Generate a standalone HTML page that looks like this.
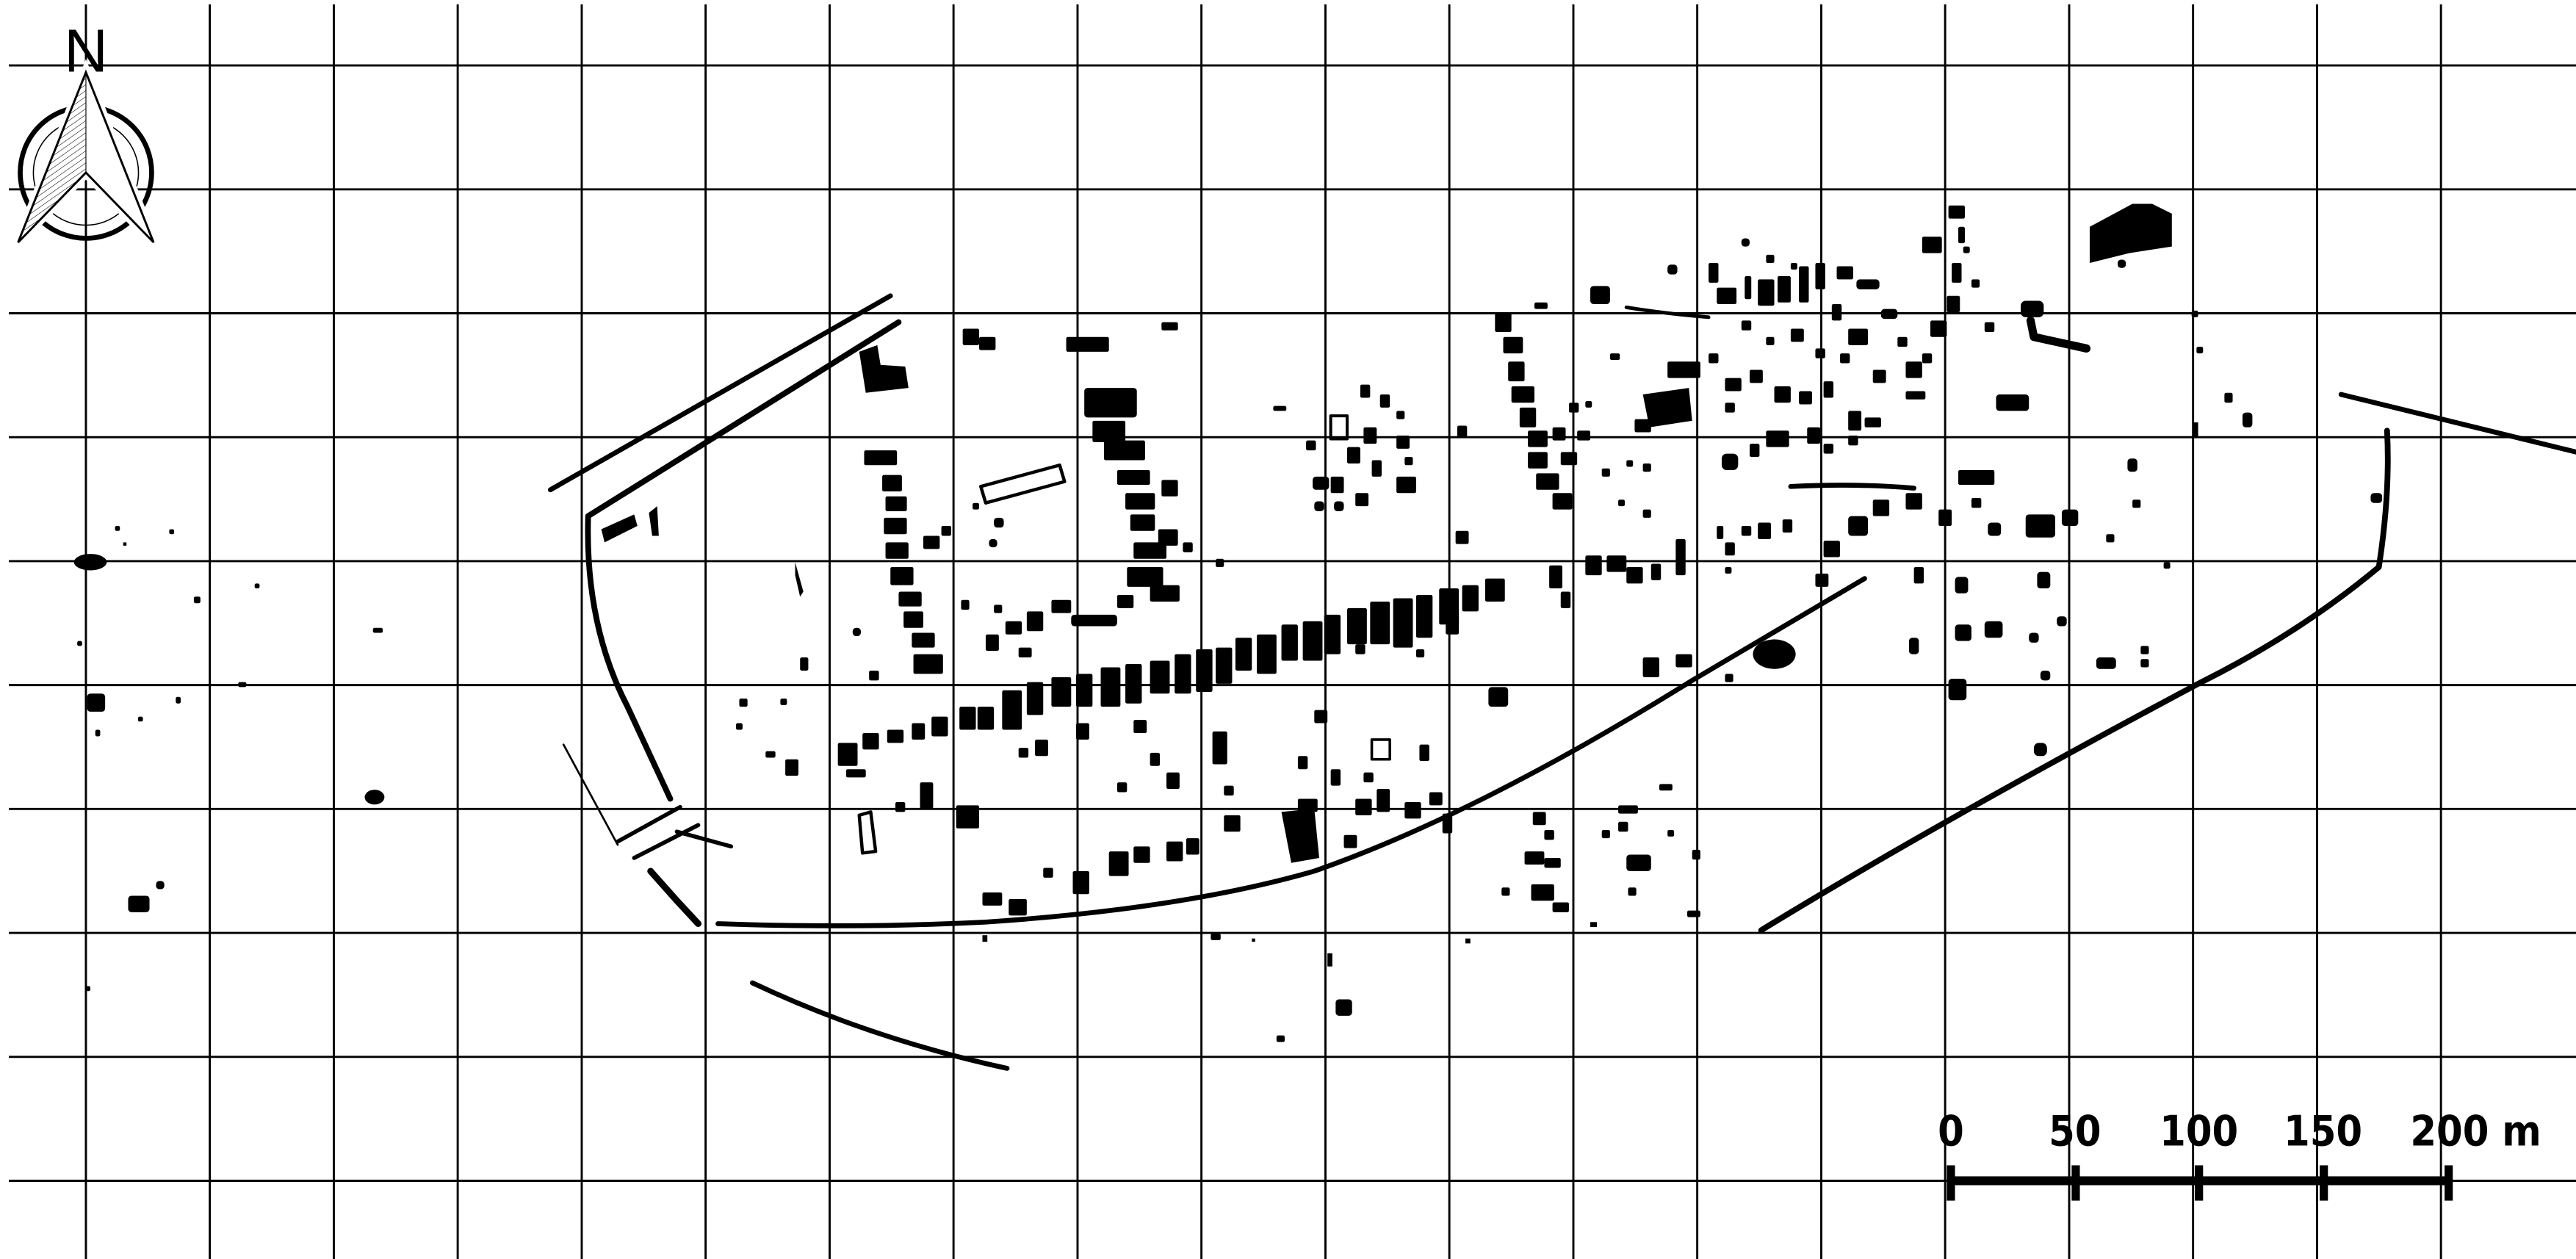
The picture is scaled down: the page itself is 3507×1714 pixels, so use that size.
<!DOCTYPE html>
<html><head><meta charset="utf-8"><style>
html,body{margin:0;padding:0;background:#fff;}
svg{display:block;}
</style></head><body>
<svg width="3507" height="1714" viewBox="0 0 1568 766" preserveAspectRatio="none" xmlns="http://www.w3.org/2000/svg">
<rect width="1568" height="766" fill="#fff"/>
<g stroke="#000" stroke-width="1.3">
<line x1="52.3" y1="2.7" x2="52.3" y2="766"/><line x1="127.7" y1="2.7" x2="127.7" y2="766"/><line x1="203.2" y1="2.7" x2="203.2" y2="766"/><line x1="278.6" y1="2.7" x2="278.6" y2="766"/><line x1="354.1" y1="2.7" x2="354.1" y2="766"/><line x1="429.5" y1="2.7" x2="429.5" y2="766"/><line x1="505" y1="2.7" x2="505" y2="766"/><line x1="580.4" y1="2.7" x2="580.4" y2="766"/><line x1="655.9" y1="2.7" x2="655.9" y2="766"/><line x1="731.3" y1="2.7" x2="731.3" y2="766"/><line x1="806.8" y1="2.7" x2="806.8" y2="766"/><line x1="882.2" y1="2.7" x2="882.2" y2="766"/><line x1="957.7" y1="2.7" x2="957.7" y2="766"/><line x1="1033.1" y1="2.7" x2="1033.1" y2="766"/><line x1="1108.6" y1="2.7" x2="1108.6" y2="766"/><line x1="1184" y1="2.7" x2="1184" y2="766"/><line x1="1259.5" y1="2.7" x2="1259.5" y2="766"/><line x1="1334.9" y1="2.7" x2="1334.9" y2="766"/><line x1="1410.4" y1="2.7" x2="1410.4" y2="766"/><line x1="1485.8" y1="2.7" x2="1485.8" y2="766"/>
<line x1="5.4" y1="39.8" x2="1568" y2="39.8"/><line x1="5.4" y1="115.2" x2="1568" y2="115.2"/><line x1="5.4" y1="190.6" x2="1568" y2="190.6"/><line x1="5.4" y1="266" x2="1568" y2="266"/><line x1="5.4" y1="341.4" x2="1568" y2="341.4"/><line x1="5.4" y1="416.8" x2="1568" y2="416.8"/><line x1="5.4" y1="492.2" x2="1568" y2="492.2"/><line x1="5.4" y1="567.6" x2="1568" y2="567.6"/><line x1="5.4" y1="643" x2="1568" y2="643"/><line x1="5.4" y1="718.4" x2="1568" y2="718.4"/>
</g>
<!-- compass -->
<g>
<circle cx="52.3" cy="105" r="40" fill="none" stroke="#000" stroke-width="3"/>
<circle cx="52.3" cy="105" r="32" fill="none" stroke="#000" stroke-width="0.7"/>
<polygon points="52.3,44 11,147.5 52.3,105 93.5,147.5" fill="#fff" stroke="#fff" stroke-width="6"/>
<pattern id="h" width="3" height="3" patternUnits="userSpaceOnUse" patternTransform="rotate(-35)"><line x1="0" y1="0" x2="3" y2="0" stroke="#000" stroke-width="0.5"/></pattern>
<polygon points="52.3,44 11,147.5 52.3,105" fill="url(#h)"/>
<polygon points="52.3,44 11,147.5 52.3,105 93.5,147.5" fill="none" stroke="#000" stroke-width="1.3" stroke-linejoin="miter"/>
<line x1="52.3" y1="44" x2="52.3" y2="105" stroke="#000" stroke-width="0.5"/>
<text x="52.3" y="43.5" font-family="Liberation Sans, sans-serif" font-size="37" text-anchor="middle">N</text>
</g>
<!-- scale bar -->
<g fill="#000">
<rect x="1187" y="715.7" width="303" height="5.4"/>
<rect x="1185" y="709" width="5" height="21.5"/><rect x="1261" y="709" width="5" height="21.5"/><rect x="1336" y="709" width="5" height="21.5"/><rect x="1412" y="709" width="5" height="21.5"/><rect x="1488" y="709" width="5" height="21.5"/>
<g font-family="DejaVu Sans Condensed, DejaVu Sans, sans-serif" font-weight="bold" font-size="25.5" text-anchor="middle" font-stretch="condensed">
<text x="1187.5" y="697">0</text><text x="1263" y="697">50</text><text x="1338.5" y="697">100</text><text x="1414" y="697">150</text><text x="1507" y="697">200 m</text>
</g>
</g>
<!-- roads / walls -->
<g fill="none" stroke="#000" stroke-linecap="round" stroke-linejoin="round">
<path d="M335,298 L542,180" stroke-width="3"/>
<path d="M547,196 L358,314 Q356,380 382,430 L408,486" stroke-width="3.5"/>
<path d="M343,453 L376,514" stroke-width="1.2"/>
<path d="M376,512 L414,491 M386,522 L425,502 M412,506 L445,515" stroke-width="2.5"/>
<path d="M396,530 L412,548 L425,562" stroke-width="4"/>
<path d="M437,562 Q520,565 600,561 Q720,553 800,530 Q900,495 1030,414 L1135,352" stroke-width="3"/>
<path d="M458,598 Q530,632 613,650" stroke-width="3"/>
<path d="M1072,566 Q1180,500 1340,415 Q1400,385 1448,345 Q1455,300 1453,262" stroke-width="3.5"/>
<path d="M1425,240 L1568,275" stroke-width="3"/>
<path d="M990,187 Q1015,191 1040,193" stroke-width="2.2"/>
<path d="M1090,296 Q1130,294 1165,297" stroke-width="3"/>
<path d="M1236,195 L1238,205 L1270,212" stroke-width="5"/>
<polygon points="597,296 645,283 648,293 600,306" stroke-width="2"/>
<rect x="835" y="450" width="11" height="12" stroke-width="1.6"/>
<rect x="810" y="253" width="10" height="14" stroke-width="1.8"/>
<path d="M523,496 L530,494 L533,518 L525,519 Z" stroke-width="2"/>
</g>
<g fill="#000">
<path d="M523,214 L534,210 L536,222 L551,223 L553,236 L527,239 Z"/>
<path d="M1272,138 L1298,124 L1310,124 L1322,130 L1322,150 L1296,154 L1272,160 Z"/>
<path d="M484,342 L489,360 L487,363 L484,350 Z"/>
<path d="M366,322 L386,313 L388,320 L368,330 Z"/>
<path d="M395,312 L400,308 L401,326 L397,326 Z"/>
<path d="M780,494 L800,492 L803,522 L786,525 Z"/>
<path d="M1000,240 L1028,236 L1030,256 L1004,260 Z"/>
<ellipse cx="55" cy="342" rx="10" ry="5"/>
<ellipse cx="1080" cy="398" rx="13" ry="9"/>
<ellipse cx="228" cy="485" rx="6" ry="4.5"/>
</g>
<g fill="#000">
<!-- left scattered -->
<rect x="70" y="320" width="3" height="3" rx="1"/><rect x="103" y="322" width="3" height="3" rx="1"/><rect x="75" y="330" width="2" height="2"/><rect x="118" y="363" width="4" height="4" rx="1"/><rect x="155" y="355" width="3" height="3" rx="1"/><rect x="227" y="382" width="6" height="3" rx="1"/><rect x="47" y="390" width="3" height="3" rx="1"/><rect x="53" y="422" width="11" height="11" rx="2"/><rect x="58" y="444" width="3" height="4" rx="1"/><rect x="84" y="436" width="3" height="3" rx="1"/><rect x="107" y="424" width="3" height="4" rx="1"/><rect x="145" y="415" width="5" height="3" rx="1"/><rect x="78" y="545" width="13" height="10" rx="2"/><rect x="95" y="536" width="5" height="5" rx="2"/><rect x="52" y="600" width="3" height="3" rx="1"/>
<rect x="487" y="400" width="5" height="8" rx="1"/><rect x="519" y="382" width="5" height="5" rx="2"/><rect x="529" y="408" width="6" height="6" rx="1"/>
<rect x="586" y="200" width="10" height="10" rx="1"/><rect x="596" y="205" width="10" height="8" rx="1"/><rect x="649" y="205" width="26" height="9" rx="1"/><rect x="707" y="196" width="10" height="5" rx="1"/>
<!-- column west -->
<rect x="526" y="274" width="20" height="9" rx="1"/><rect x="537" y="289" width="12" height="10" rx="1"/><rect x="539" y="302" width="13" height="9" rx="1"/><rect x="538" y="315" width="14" height="10" rx="1"/><rect x="539" y="330" width="14" height="10" rx="1"/><rect x="542" y="345" width="14" height="11" rx="1"/><rect x="547" y="360" width="14" height="9" rx="1"/><rect x="550" y="372" width="12" height="10" rx="1"/><rect x="555" y="385" width="14" height="9" rx="1"/><rect x="556" y="398" width="18" height="12" rx="1"/><rect x="562" y="326" width="10" height="8" rx="1"/><rect x="573" y="320" width="6" height="6" rx="1"/><rect x="605" y="315" width="6" height="6" rx="2"/><rect x="602" y="328" width="5" height="5" rx="2"/><rect x="592" y="306" width="4" height="4" rx="1"/>
<!-- column middle -->
<rect x="660" y="236" width="32" height="18" rx="2"/><rect x="665" y="256" width="20" height="13" rx="1"/><rect x="672" y="268" width="25" height="12" rx="1"/><rect x="680" y="286" width="20" height="9" rx="1"/><rect x="685" y="300" width="18" height="10" rx="1"/><rect x="688" y="313" width="15" height="10" rx="1"/><rect x="690" y="330" width="20" height="10" rx="1"/><rect x="686" y="345" width="22" height="12" rx="1"/><rect x="700" y="356" width="18" height="10" rx="1"/><rect x="707" y="292" width="10" height="10" rx="1"/><rect x="705" y="322" width="12" height="10" rx="1"/><rect x="720" y="330" width="6" height="6" rx="1"/><rect x="740" y="340" width="5" height="5" rx="1"/>
<!-- between -->
<rect x="600" y="386" width="8" height="10" rx="1"/><rect x="612" y="378" width="10" height="8" rx="1"/><rect x="625" y="372" width="10" height="12" rx="1"/><rect x="640" y="365" width="12" height="8" rx="1"/><rect x="652" y="374" width="28" height="7" rx="2"/><rect x="620" y="394" width="8" height="6" rx="1"/><rect x="585" y="365" width="5" height="6" rx="1"/><rect x="605" y="368" width="5" height="5" rx="1"/><rect x="680" y="362" width="10" height="8" rx="1"/>
<!-- main street band -->
<rect x="752" y="388" width="10" height="20" rx="1"/><rect x="765" y="386" width="12" height="24" rx="1"/><rect x="780" y="380" width="10" height="22" rx="1"/><rect x="793" y="378" width="12" height="24" rx="1"/><rect x="806" y="374" width="10" height="24" rx="1"/><rect x="820" y="370" width="12" height="22" rx="1"/><rect x="834" y="366" width="12" height="26" rx="1"/><rect x="848" y="364" width="12" height="30" rx="1"/><rect x="862" y="362" width="10" height="26" rx="1"/><rect x="876" y="358" width="12" height="22" rx="1"/><rect x="890" y="356" width="10" height="16" rx="1"/><rect x="904" y="352" width="12" height="14" rx="1"/><rect x="880" y="374" width="8" height="12" rx="1"/><rect x="825" y="392" width="6" height="6" rx="1"/><rect x="862" y="395" width="5" height="5" rx="1"/>
<rect x="595" y="430" width="10" height="14" rx="1"/><rect x="610" y="420" width="12" height="24" rx="1"/><rect x="625" y="415" width="10" height="20" rx="1"/><rect x="640" y="412" width="12" height="18" rx="1"/><rect x="655" y="410" width="10" height="20" rx="1"/><rect x="670" y="406" width="12" height="24" rx="1"/><rect x="685" y="404" width="10" height="24" rx="1"/><rect x="700" y="402" width="12" height="20" rx="1"/><rect x="715" y="398" width="10" height="24" rx="1"/><rect x="728" y="395" width="10" height="26" rx="1"/><rect x="740" y="394" width="10" height="22" rx="1"/><rect x="655" y="440" width="8" height="10" rx="1"/><rect x="630" y="450" width="8" height="10" rx="1"/><rect x="690" y="438" width="8" height="8" rx="1"/><rect x="620" y="455" width="6" height="6" rx="1"/>
<!-- left row -->
<rect x="510" y="452" width="12" height="14" rx="1"/><rect x="525" y="446" width="10" height="10" rx="1"/><rect x="540" y="444" width="10" height="8" rx="1"/><rect x="555" y="440" width="8" height="10" rx="1"/><rect x="567" y="436" width="10" height="12" rx="1"/><rect x="584" y="430" width="10" height="14" rx="1"/><rect x="515" y="468" width="12" height="5" rx="1"/><rect x="560" y="476" width="8" height="16" rx="1"/><rect x="582" y="490" width="14" height="14" rx="1"/><rect x="450" y="425" width="5" height="5" rx="1"/><rect x="448" y="440" width="4" height="4" rx="1"/><rect x="466" y="457" width="6" height="4" rx="1"/><rect x="478" y="462" width="8" height="10" rx="1"/><rect x="475" y="425" width="4" height="4" rx="1"/><rect x="545" y="488" width="6" height="6" rx="1"/>
<!-- lower center -->
<rect x="738" y="445" width="9" height="20" rx="1"/><rect x="745" y="478" width="6" height="6" rx="1"/><rect x="700" y="458" width="6" height="8" rx="1"/><rect x="710" y="470" width="8" height="10" rx="1"/><rect x="680" y="476" width="6" height="6" rx="1"/><rect x="745" y="496" width="10" height="10" rx="1"/><rect x="690" y="515" width="10" height="10" rx="1"/><rect x="710" y="512" width="10" height="12" rx="1"/><rect x="675" y="518" width="12" height="15" rx="1"/><rect x="653" y="530" width="10" height="14" rx="1"/><rect x="635" y="528" width="6" height="6" rx="1"/><rect x="598" y="543" width="12" height="8" rx="1"/><rect x="614" y="547" width="11" height="10" rx="1"/><rect x="598" y="569" width="3" height="4"/><rect x="722" y="510" width="8" height="10" rx="1"/>
<rect x="790" y="486" width="12" height="8" rx="1"/><rect x="800" y="432" width="8" height="8" rx="1"/><rect x="790" y="460" width="6" height="8" rx="1"/><rect x="810" y="468" width="6" height="10" rx="1"/><rect x="825" y="486" width="10" height="10" rx="1"/><rect x="838" y="480" width="8" height="14" rx="1"/><rect x="855" y="488" width="10" height="10" rx="1"/><rect x="870" y="482" width="8" height="8" rx="1"/><rect x="864" y="453" width="6" height="10" rx="1"/><rect x="818" y="508" width="8" height="8" rx="1"/><rect x="878" y="495" width="6" height="12" rx="1"/><rect x="830" y="470" width="6" height="6" rx="1"/>
<rect x="737" y="568" width="6" height="4" rx="1"/><rect x="762" y="571" width="2" height="2"/><rect x="808" y="580" width="3" height="8"/><rect x="813" y="608" width="10" height="10" rx="2"/><rect x="777" y="630" width="5" height="4" rx="1"/><rect x="892" y="571" width="3" height="3"/>
<!-- right lower cluster -->
<rect x="933" y="494" width="8" height="8" rx="1"/><rect x="940" y="505" width="6" height="6" rx="1"/><rect x="928" y="518" width="12" height="8" rx="1"/><rect x="940" y="522" width="10" height="6" rx="1"/><rect x="932" y="538" width="14" height="10" rx="1"/><rect x="945" y="549" width="10" height="6" rx="1"/><rect x="914" y="540" width="5" height="5" rx="1"/><rect x="968" y="561" width="4" height="3"/><rect x="985" y="490" width="12" height="5" rx="1"/><rect x="985" y="500" width="6" height="6" rx="1"/><rect x="975" y="505" width="5" height="5" rx="1"/><rect x="990" y="520" width="15" height="10" rx="2"/><rect x="991" y="540" width="5" height="5" rx="1"/><rect x="1010" y="477" width="8" height="4" rx="1"/><rect x="1030" y="517" width="5" height="6" rx="1"/><rect x="1027" y="554" width="8" height="4" rx="1"/><rect x="1015" y="505" width="4" height="4" rx="1"/>
<!-- mid right band -->
<rect x="943" y="344" width="8" height="14" rx="1"/><rect x="965" y="338" width="10" height="12" rx="1"/><rect x="978" y="338" width="12" height="10" rx="1"/><rect x="990" y="345" width="10" height="10" rx="1"/><rect x="1005" y="343" width="6" height="10" rx="1"/><rect x="1020" y="328" width="6" height="22" rx="1"/><rect x="1050" y="330" width="6" height="8" rx="1"/><rect x="1060" y="320" width="6" height="6" rx="1"/><rect x="1070" y="318" width="8" height="10" rx="1"/><rect x="1085" y="316" width="6" height="8" rx="1"/><rect x="1050" y="345" width="4" height="4" rx="1"/><rect x="1045" y="320" width="4" height="8" rx="1"/><rect x="950" y="360" width="6" height="10" rx="1"/>
<rect x="906" y="418" width="12" height="12" rx="2"/><rect x="1000" y="400" width="10" height="12" rx="1"/><rect x="1020" y="398" width="10" height="8" rx="1"/><rect x="1050" y="410" width="5" height="5" rx="1"/><rect x="1105" y="349" width="8" height="8" rx="1"/><rect x="1110" y="329" width="10" height="10" rx="1"/><rect x="1125" y="314" width="12" height="12" rx="2"/><rect x="1140" y="304" width="10" height="10" rx="1"/><rect x="1160" y="300" width="10" height="10" rx="1"/><rect x="1165" y="345" width="6" height="10" rx="1"/><rect x="1190" y="351" width="8" height="10" rx="2"/><rect x="1180" y="310" width="8" height="10" rx="1"/><rect x="1192" y="286" width="22" height="9" rx="1"/><rect x="1210" y="318" width="8" height="8" rx="2"/><rect x="1186" y="413" width="11" height="13" rx="2"/><rect x="1190" y="380" width="10" height="10" rx="2"/><rect x="1208" y="378" width="11" height="10" rx="2"/><rect x="1162" y="388" width="6" height="10" rx="2"/><rect x="1238" y="452" width="8" height="8" rx="3"/><rect x="1242" y="408" width="6" height="6" rx="2"/><rect x="1235" y="385" width="6" height="6" rx="2"/><rect x="1233" y="313" width="18" height="14" rx="2"/><rect x="1255" y="310" width="10" height="10" rx="2"/><rect x="1276" y="400" width="12" height="7" rx="2"/><rect x="1303" y="393" width="5" height="5" rx="1"/><rect x="1303" y="401" width="5" height="5" rx="1"/><rect x="1282" y="325" width="5" height="5" rx="1"/><rect x="1295" y="279" width="6" height="8" rx="2"/><rect x="1298" y="304" width="5" height="5" rx="1"/><rect x="1317" y="342" width="4" height="4" rx="1"/><rect x="1240" y="348" width="8" height="10" rx="2"/><rect x="1252" y="375" width="6" height="6" rx="2"/><rect x="1200" y="303" width="6" height="6" rx="1"/><rect x="1443" y="300" width="7" height="6" rx="2"/><rect x="1354" y="239" width="5" height="6" rx="1"/><rect x="1365" y="251" width="6" height="9" rx="2"/><rect x="1334" y="189" width="4" height="4" rx="1"/><rect x="1337" y="211" width="4" height="4" rx="1"/><rect x="1335" y="257" width="3" height="9"/>
<!-- upper cluster -->
<rect x="910" y="190" width="10" height="12" rx="1"/><rect x="915" y="205" width="12" height="10" rx="1"/><rect x="918" y="220" width="10" height="12" rx="1"/><rect x="920" y="235" width="14" height="10" rx="1"/><rect x="925" y="248" width="10" height="12" rx="1"/><rect x="930" y="262" width="12" height="10" rx="1"/><rect x="930" y="275" width="12" height="10" rx="1"/><rect x="935" y="288" width="14" height="10" rx="1"/><rect x="945" y="300" width="12" height="10" rx="1"/><rect x="950" y="275" width="10" height="8" rx="1"/><rect x="945" y="260" width="8" height="8" rx="1"/><rect x="955" y="245" width="6" height="6" rx="1"/><rect x="934" y="184" width="8" height="4" rx="1"/><rect x="968" y="174" width="12" height="11" rx="2"/><rect x="980" y="215" width="6" height="4" rx="1"/><rect x="965" y="244" width="4" height="4" rx="1"/><rect x="960" y="262" width="8" height="6" rx="1"/><rect x="975" y="285" width="5" height="5" rx="1"/><rect x="990" y="280" width="4" height="4" rx="1"/><rect x="1000" y="282" width="5" height="5" rx="1"/><rect x="1000" y="310" width="5" height="5" rx="1"/><rect x="1015" y="220" width="20" height="10" rx="1"/><rect x="995" y="255" width="10" height="8" rx="1"/><rect x="985" y="304" width="4" height="4" rx="1"/><rect x="887" y="259" width="6" height="7" rx="1"/><rect x="886" y="323" width="8" height="8" rx="1"/>
<!-- cluster 790-870 -->
<rect x="775" y="247" width="8" height="3" rx="1"/><rect x="828" y="234" width="6" height="8" rx="1"/><rect x="840" y="240" width="6" height="8" rx="1"/><rect x="850" y="250" width="5" height="5" rx="1"/><rect x="830" y="260" width="8" height="10" rx="1"/><rect x="850" y="265" width="8" height="8" rx="1"/><rect x="795" y="268" width="6" height="6" rx="1"/><rect x="799" y="290" width="10" height="8" rx="2"/><rect x="810" y="290" width="8" height="10" rx="1"/><rect x="820" y="272" width="8" height="10" rx="1"/><rect x="835" y="280" width="6" height="10" rx="1"/><rect x="850" y="290" width="12" height="10" rx="1"/><rect x="825" y="300" width="8" height="8" rx="1"/><rect x="800" y="305" width="6" height="6" rx="2"/><rect x="812" y="305" width="6" height="6" rx="2"/><rect x="855" y="278" width="5" height="5" rx="1"/>
<!-- top right -->
<rect x="1015" y="161" width="6" height="6" rx="2"/><rect x="1040" y="160" width="6" height="12" rx="1"/><rect x="1045" y="175" width="12" height="10" rx="1"/><rect x="1062" y="168" width="4" height="14" rx="1"/><rect x="1070" y="170" width="10" height="16" rx="1"/><rect x="1082" y="168" width="8" height="16" rx="1"/><rect x="1095" y="162" width="6" height="22" rx="1"/><rect x="1105" y="160" width="6" height="16" rx="1"/><rect x="1118" y="162" width="10" height="8" rx="1"/><rect x="1130" y="170" width="14" height="6" rx="2"/><rect x="1145" y="188" width="10" height="6" rx="2"/><rect x="1060" y="145" width="5" height="5" rx="2"/><rect x="1075" y="155" width="5" height="5" rx="1"/><rect x="1090" y="160" width="4" height="4" rx="1"/><rect x="1115" y="185" width="6" height="10" rx="1"/><rect x="1125" y="200" width="12" height="10" rx="1"/><rect x="1120" y="215" width="6" height="6" rx="1"/><rect x="1155" y="205" width="6" height="6" rx="1"/><rect x="1160" y="220" width="10" height="10" rx="1"/><rect x="1160" y="238" width="12" height="5" rx="1"/><rect x="1175" y="195" width="10" height="10" rx="1"/><rect x="1170" y="215" width="6" height="6" rx="1"/><rect x="1185" y="180" width="8" height="10" rx="1"/><rect x="1188" y="160" width="6" height="12" rx="1"/><rect x="1186" y="125" width="10" height="8" rx="1"/><rect x="1192" y="138" width="4" height="10" rx="1"/><rect x="1195" y="150" width="4" height="4" rx="1"/><rect x="1200" y="170" width="5" height="5" rx="1"/><rect x="1208" y="196" width="6" height="6" rx="1"/><rect x="1215" y="240" width="20" height="10" rx="2"/><rect x="1230" y="183" width="14" height="10" rx="3"/><rect x="1170" y="144" width="12" height="10" rx="1"/><rect x="1060" y="195" width="6" height="6" rx="1"/><rect x="1075" y="205" width="5" height="5" rx="1"/><rect x="1090" y="200" width="8" height="8" rx="1"/><rect x="1105" y="212" width="6" height="6" rx="1"/><rect x="1050" y="230" width="10" height="8" rx="1"/><rect x="1065" y="225" width="8" height="8" rx="1"/><rect x="1080" y="235" width="10" height="10" rx="1"/><rect x="1095" y="238" width="8" height="8" rx="1"/><rect x="1110" y="232" width="6" height="10" rx="1"/><rect x="1125" y="250" width="8" height="12" rx="1"/><rect x="1135" y="254" width="10" height="6" rx="1"/><rect x="1100" y="260" width="8" height="10" rx="1"/><rect x="1075" y="262" width="14" height="10" rx="1"/><rect x="1048" y="276" width="10" height="10" rx="3"/><rect x="1065" y="270" width="6" height="8" rx="1"/><rect x="1040" y="215" width="6" height="6" rx="1"/><rect x="1050" y="245" width="6" height="6" rx="1"/><rect x="1110" y="270" width="6" height="6" rx="1"/><rect x="1125" y="265" width="6" height="6" rx="1"/><rect x="1140" y="225" width="8" height="8" rx="1"/><rect x="1289" y="158" width="5" height="5" rx="2"/>
</g>
</svg>
</body></html>
